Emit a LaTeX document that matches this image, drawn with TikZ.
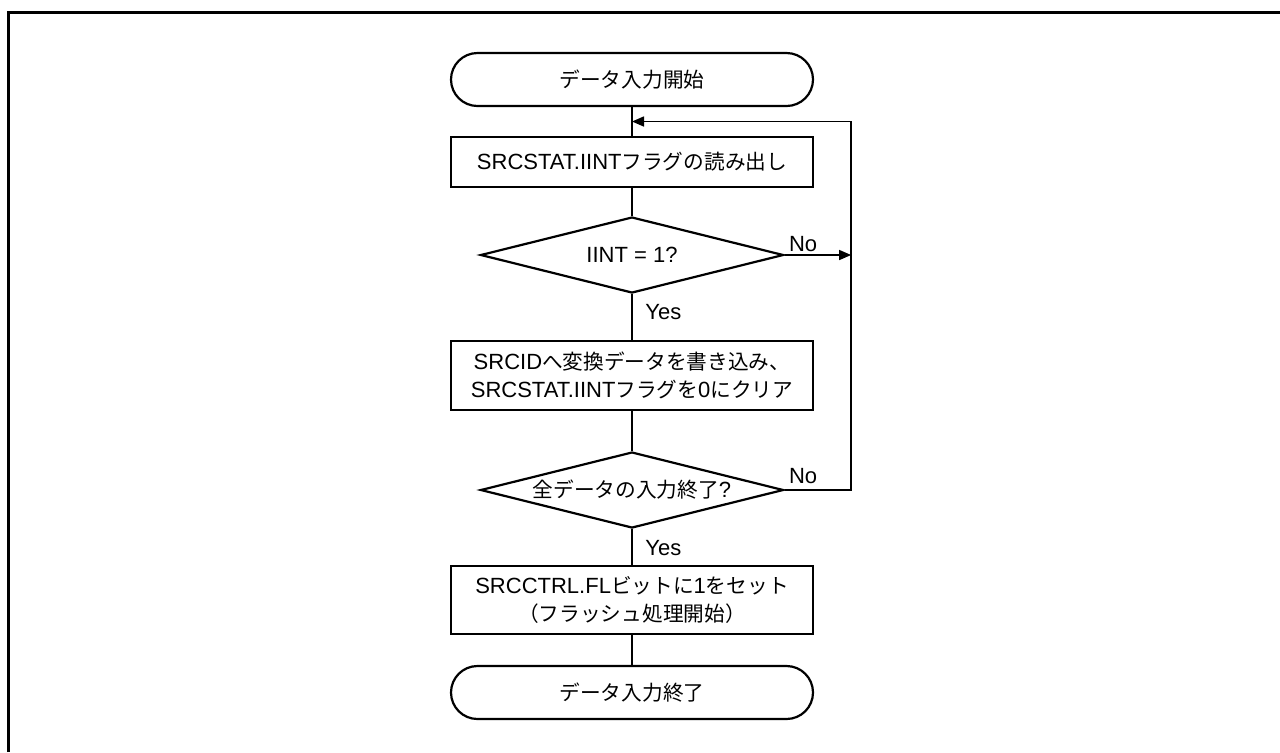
\documentclass[tikz,border=0pt]{standalone}
\usepackage{fontspec}
\setmainfont{Liberation Sans}
\newfontfamily\jpfont[Scale=0.94]{Noto Sans CJK JP}
\newcommand{\jp}[1]{{\jpfont #1}}
\usetikzlibrary{positioning,arrows.meta,shapes.geometric,shapes.misc,calc}

\begin{document}
\begin{tikzpicture}[
  font=\fontsize{11}{13.8}\selectfont,
  terminal/.style={draw, line width=1.1pt, rounded rectangle, minimum width=181pt, minimum height=26.5pt, inner sep=0pt},
  process/.style={draw, line width=1.1pt, rectangle, minimum width=181pt, inner sep=0pt, align=center},
  decision/.style={draw, line width=1.1pt, diamond, shape aspect=4, minimum width=151.5pt, minimum height=38pt, inner sep=0pt},
  line/.style={line width=0.8pt},
  arr/.style={line width=0.8pt, -{Triangle[length=6pt,width=5pt]}},
  lbl/.style={inner sep=0pt}
]
\useasboundingbox (0,0) rectangle (640pt,-376pt);

% frame (top and left only)
\draw[line width=1.5pt] (4.25pt,-376pt) -- (4.25pt,-6.25pt) -- (640pt,-6.25pt);

% nodes
\node[terminal] (start) at (316pt,-39.75pt) {\jp{データ入力開始}};
\node[process, minimum height=25pt, below=14.4pt of start] (read) {SRCSTAT.IINT\jp{フラグの読み出し}};
\node[decision, below=13.9pt of read] (chk) {IINT = 1?};
\node[process, minimum height=34.5pt, below=22.9pt of chk] (write) {SRCID\jp{へ変換データを書き込み、}\\SRCSTAT.IINT\jp{フラグを}0\jp{にクリア}};
\node[decision, below=19.9pt of write] (done) {\jp{全データの入力終了}?};
\node[process, minimum height=34pt, below=17.9pt of done] (flush) {SRCCTRL.FL\jp{ビットに}1\jp{をセット}\\\jp{（フラッシュ処理開始）}};
\node[terminal, below=14.9pt of flush] (stop) {\jp{データ入力終了}};

% labels
\node[lbl, anchor=north west] (yes1) at ([xshift=6.5pt,yshift=-5pt]chk.south) {Yes};
\node[lbl, anchor=north west] (yes2) at ([xshift=6.5pt,yshift=-5.5pt]done.south) {Yes};
\node[lbl, anchor=south west] (no1) at ([xshift=2pt,yshift=1.5pt]chk.east) {No};
\node[lbl, anchor=south west] (no2) at ([xshift=2pt,yshift=3pt]done.east) {No};

% main flow
\draw[line] (start) -- (read);
\draw[line] (read) -- (chk);
\draw[line] (chk) -- (write);
\draw[line] (write) -- (done);
\draw[line] (done) -- (flush);
\draw[line] (flush) -- (stop);

% loop back
\coordinate[right=18.5pt of read.east] (rail);
\coordinate (join) at ($(start.south)!0.5!(read.north)$);
\draw[arr] (chk.east) -- (chk.east -| rail);
\draw[arr] (done.east) -- (done.east -| rail) |- (join);

\end{tikzpicture}
\end{document}
